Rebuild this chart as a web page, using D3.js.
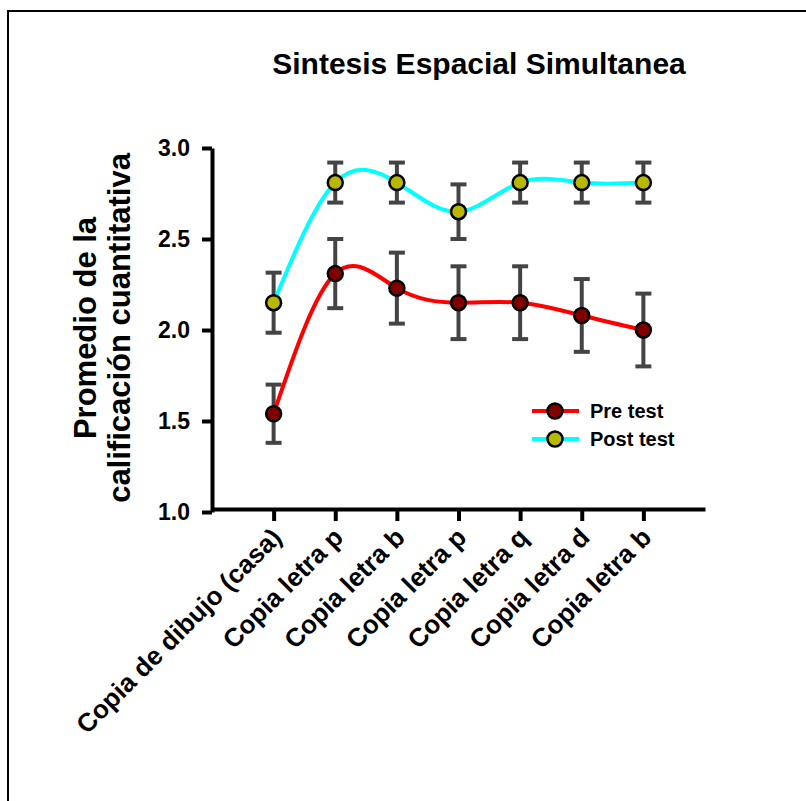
<!DOCTYPE html>
<html>
<head>
<meta charset="utf-8">
<script src="https://cdn.jsdelivr.net/npm/d3@7"></script>
<style>
  html, body { margin: 0; padding: 0; background: #fff; }
  svg { display: block; font-family: Arial, "Liberation Sans", sans-serif; }
</style>
</head>
<body>
<svg id="chart" width="806" height="801"></svg>
<script>
// Task categories along the x axis
const categories = [
  "Copia de dibujo (casa)", "Copia letra p", "Copia letra b", "Copia letra p",
  "Copia letra q", "Copia letra d", "Copia letra b"
];
// Mean scores and standard errors
const preMean  = [1.54, 2.31, 2.23, 2.15, 2.15, 2.08, 2.00];
const preErr   = [0.16, 0.19, 0.195, 0.20, 0.20, 0.20, 0.20];
const postMean = [2.15, 2.81, 2.81, 2.65, 2.81, 2.81, 2.81];
const postErr  = [0.165, 0.11, 0.11, 0.15, 0.11, 0.11, 0.11];
const yTicks = [1.0, 1.5, 2.0, 2.5, 3.0];
const seriesNames = ["Pre test", "Post test"];

const svg = d3.select("#chart");

// outer frame
svg.append("rect")
  .attr("x", 8).attr("y", 11).attr("width", 820).attr("height", 820)
  .attr("fill", "none").attr("stroke", "#000").attr("stroke-width", 2);

const x = d3.scalePoint().domain(d3.range(categories.length)).range([212, 705]).padding(1);
const y = d3.scaleLinear().domain([1, 3]).range([512, 148]);

const series = [
  { name: seriesNames[0], mean: preMean, err: preErr, line: "#ff0000", fill: "#800000" },
  { name: seriesNames[1], mean: postMean, err: postErr, line: "#00ffff", fill: "#b8b800" }
];

// title
svg.append("text")
  .attr("x", 479).attr("y", 74)
  .attr("text-anchor", "middle")
  .attr("font-size", 30).attr("font-weight", "bold")
  .text("Sintesis Espacial Simultanea");

// y axis
const yAxis = d3.axisLeft(y).tickValues(yTicks).tickFormat(d3.format(".1f")).tickSize(10).tickSizeOuter(0);
const gy = svg.append("g").attr("transform", "translate(212,0)").call(yAxis);
gy.select(".domain").attr("stroke-width", 4);
gy.selectAll(".tick line").attr("stroke-width", 4);
gy.selectAll(".tick text").attr("font-size", 23).attr("font-weight", "bold").attr("fill", "#000").attr("x", -22);

// x axis
const xAxis = d3.axisBottom(x).tickFormat(i => categories[i]).tickSize(12).tickSizeOuter(0);
const gx = svg.append("g").attr("transform", "translate(0,509)").call(xAxis);
gx.select(".domain").attr("stroke-width", 4);
gx.selectAll(".tick line").attr("stroke-width", 4);
gx.selectAll(".tick text")
  .attr("font-size", 26).attr("font-weight", "bold").attr("fill", "#000")
  .attr("text-anchor", "end")
  .attr("dy", null).attr("y", 0)
  .attr("transform", "translate(9,30) rotate(-45)");

// y axis title
const yTitle = svg.append("text")
  .attr("transform", "translate(0,328) rotate(-90)")
  .attr("text-anchor", "middle")
  .attr("font-size", 31).attr("font-weight", "bold");
yTitle.append("tspan").attr("x", 0).attr("y", 96).text("Promedio de la");
yTitle.append("tspan").attr("x", 0).attr("y", 130).text("calificación cuantitativa");

const line = d3.line()
  .x((d, i) => x(i))
  .y(d => y(d))
  .curve(d3.curveNatural);

series.forEach(s => {
  const g = svg.append("g");
  // error bars
  s.mean.forEach((m, i) => {
    const cx = x(i);
    const e = g.append("g").attr("stroke", "#444").attr("stroke-width", 4);
    e.append("line").attr("x1", cx).attr("x2", cx).attr("y1", y(m - s.err[i])).attr("y2", y(m + s.err[i]));
    e.append("line").attr("x1", cx - 8).attr("x2", cx + 8).attr("y1", y(m + s.err[i])).attr("y2", y(m + s.err[i]));
    e.append("line").attr("x1", cx - 8).attr("x2", cx + 8).attr("y1", y(m - s.err[i])).attr("y2", y(m - s.err[i]));
  });
});

series.forEach(s => {
  const g = svg.append("g");
  g.append("path").datum(s.mean)
    .attr("d", line).attr("fill", "none")
    .attr("stroke", s.line).attr("stroke-width", 4);
  g.selectAll("circle").data(s.mean).join("circle")
    .attr("cx", (d, i) => x(i)).attr("cy", d => y(d)).attr("r", 7.5)
    .attr("fill", s.fill).attr("stroke", "#000").attr("stroke-width", 2.5);
});

// legend
const legend = svg.append("g");
series.forEach((s, k) => {
  const ly = 411 + k * 28;
  legend.append("line").attr("x1", 532).attr("x2", 579).attr("y1", ly).attr("y2", ly)
    .attr("stroke", s.line).attr("stroke-width", 4);
  legend.append("circle").attr("cx", 555).attr("cy", ly).attr("r", 7.5)
    .attr("fill", s.fill).attr("stroke", "#000").attr("stroke-width", 2.5);
  legend.append("text").attr("x", 590).attr("y", ly + 7)
    .attr("font-size", 20).attr("font-weight", "bold").text(s.name);
});
</script>
</body>
</html>
